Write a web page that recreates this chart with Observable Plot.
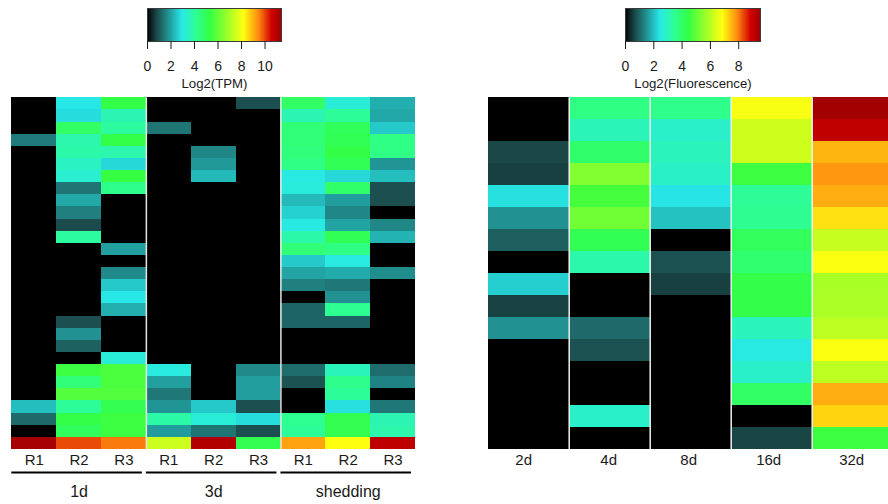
<!DOCTYPE html>
<html>
<head>
<meta charset="utf-8">
<script src="https://cdn.jsdelivr.net/npm/d3@7"></script>
<script src="https://cdn.jsdelivr.net/npm/@observablehq/plot@0.6"></script>
<style>
html,body{margin:0;padding:0;background:#fff;width:888px;height:504px;overflow:hidden}
#root{position:relative;width:888px;height:504px;overflow:hidden}
#root svg{position:absolute;max-width:none;background:transparent}
</style>
</head>
<body>
<div id="root"></div>
<script>
// Colour ramp shared by both panels, as a fraction of each panel's maximum
const rampStops = [0, 0.07, 0.26, 0.37, 0.47, 0.72, 0.83, 0.93, 1];
const rampColors = ["#000000", "#1b4747", "#28e8e8", "#2eff90", "#33ff44", "#ffff10", "#ff8c10", "#d00000", "#a00000"];

const tpmMax = 11.4;
const fluorMax = 9.54;
const tpmTicks = [0, 2, 4, 6, 8, 10];
const fluorTicks = [0, 2, 4, 6, 8];

// Left heat map: Log2(TPM), 29 rows per column
const replicateLabels = ["R1", "R2", "R3", "R1", "R2", "R3", "R1", "R2", "R3"];
const groupLabels = ["1d", "3d", "shedding"];
const d1R1 = [0,0,0,1.5,0,0,0,0,0,0,0,0,0,0,0,0,0,0,0,0,0,0,0,0,0,2.4,1.25,0,11.3];
const d1R2 = [2.95,2.8,4.9,3.8,3.85,3.5,3.3,1.4,2.1,1.55,0.85,4.0,0,0,0,0,0,0,0.92,1.8,1.15,0,5.5,4.6,5.8,4.1,5.3,5.0,10.0];
const d1R3 = [5.3,3.7,4.0,5.3,3.8,2.75,5.4,4.3,0,0,0,0,2.0,0,1.7,2.55,2.95,2.2,0,0,0,3.2,5.7,5.7,5.8,5.2,5.5,5.5,9.6];
const d3R1 = [0,0,1.4,0,0,0,0,0,0,0,0,0,0,0,0,0,0,0,0,0,0,0,3.1,2.0,1.45,1.85,3.9,1.95,7.5];
const d3R2 = [0,0,0,0,1.65,1.9,2.35,0,0,0,0,0,0,0,0,0,0,0,0,0,0,0,0,0,0,2.55,3.2,1.4,11.1];
const d3R3 = [0.92,0,0,0,0,0,0,0,0,0,0,0,0,0,0,0,0,0,0,0,0,0,1.7,1.95,1.95,0.92,2.8,0.92,5.2];
const shedR1 = [4.9,3.7,4.6,4.6,4.5,4.4,3.05,3.15,2.35,2.65,3.05,3.85,4.6,2.55,2.05,1.55,0,1.2,1.2,0,0,0,1.3,0.95,0,0,4.2,4.1,9.2];
const shedR2 = [3.2,4.1,5.0,5.1,5.3,5.1,2.75,4.8,1.95,1.65,2.05,5.1,4.4,3.1,2.15,1.45,1.8,4.2,1.2,0,0,0,3.6,4.3,4.1,2.85,5.2,5.2,8.2];
const shedR3 = [2.2,2.1,2.55,4.4,4.4,1.85,2.4,0.92,0.92,0,1.65,2.25,0,0,1.75,0,0,0,0,0,0,0,1.3,1.6,0,1.45,3.7,3.8,10.9];
const tpmColumns = [d1R1, d1R2, d1R3, d3R1, d3R2, d3R3, shedR1, shedR2, shedR3];

// Right heat map: Log2(Fluorescence), 16 rows per column
const dayLabels = ["2d", "4d", "8d", "16d", "32d"];
const day2 = [0,0,0.67,0.6,2.4,1.5,0.94,0,2.2,0.63,1.5,0,0,0,0,0];
const day4 = [3.7,3.05,4.0,5.4,4.7,5.2,4.3,3.2,0,0,1.05,0.78,0,0,2.85,0];
const day8 = [3.6,2.85,3.0,2.9,2.45,2.05,0,0.78,0.6,0,0,0,0,0,0,0];
const day16 = [6.8,6.3,6.3,4.6,3.45,3.5,4.2,3.95,4.4,4.4,3.0,2.55,2.85,4.1,0,0.65];
const day32 = [9.5,9.1,7.54,7.82,7.62,7.15,6.2,6.85,5.85,5.9,6.1,6.85,6.1,7.62,7.25,4.6];
const fluorColumns = [day2, day4, day8, day16, day32];
const dayLabelNudge = [-5, -1, -2, -3, -1];

const font = "'Liberation Sans', Arial, sans-serif";
const root = document.getElementById("root");

function place(svg, left, top) {
  svg.style.left = left + "px";
  svg.style.top = top + "px";
  root.appendChild(svg);
}

function colorScale(max) {
  return {type: "linear", domain: rampStops.map(s => s * max), range: rampColors, interpolate: "rgb", clamp: true};
}

function cellsOf(columns) {
  return columns.flatMap((col, c) => col.map((v, r) => ({c, r, v})));
}

function colorBar(max, ticks, title, left, top, barWidth, barHeight) {
  const levels = d3.range(0, Math.ceil(barWidth));
  const step = max / levels.length;
  const svg = Plot.plot({
    width: barWidth + 60,
    height: 96 - top,
    marginLeft: 30,
    marginRight: 30,
    marginTop: 0,
    marginBottom: 96 - top - barHeight,
    style: {fontFamily: font, background: "transparent"},
    x: {domain: [0, max], axis: null},
    y: {domain: [0, 1], axis: null},
    color: colorScale(max),
    marks: [
      Plot.rectY(levels, {
        x1: d => d * step,
        x2: d => (d + 1) * step + step * 0.3,
        y1: 0, y2: 1,
        fill: d => (d + 0.5) * step,
        shapeRendering: "crispEdges"
      }),
      Plot.frame({stroke: "#3a3a3a", strokeWidth: 1}),
      Plot.axisX({ticks, tickSize: 8, tickPadding: 12, fontSize: 14, color: "#1a1a1a", stroke: "#1a1a1a", tickFormat: d => String(d), label: null}),
      Plot.text([title], {x: max / 2, frameAnchor: "bottom", dy: 46, fontSize: 13.2, fill: "#1a1a1a", textAnchor: "middle"})
    ]
  });
  place(svg, left - 30, top);
}

colorBar(tpmMax, tpmTicks, "Log2(TPM)", 147, 7.5, 134, 33);
colorBar(fluorMax, fluorTicks, "Log2(Fluorescence)", 625, 8, 135, 33);

// Left heat map
const groupSpans = groupLabels.map((label, i) => ({label, start: i * 3, end: i * 3 + 3}));
place(Plot.plot({
  width: 430,
  height: 414,
  marginLeft: 11.3,
  marginRight: 15,
  marginTop: 7.3,
  marginBottom: 55,
  style: {fontFamily: font, background: "transparent"},
  x: {domain: [0, 9], axis: null},
  y: {domain: [0, 29], reverse: true, axis: null},
  color: colorScale(tpmMax),
  marks: [
    Plot.rect(cellsOf(tpmColumns), {
      x1: "c", x2: d => d.c + 1,
      y1: "r", y2: d => d.r + 1,
      fill: "v", shapeRendering: "crispEdges"
    }),
    Plot.ruleX([3, 6], {y1: 0, y2: 29, stroke: "#e4e4e4", strokeWidth: 1.5}),
    Plot.text(replicateLabels, {
      x: (d, i) => i + 0.5, y: 29, dy: 11, fontSize: 15, fill: "#1a1a1a"
    }),
    Plot.ruleY(groupSpans, {
      y: 29, x1: "start", x2: "end", dy: 23, insetRight: 4, stroke: "#000", strokeWidth: 2
    }),
    Plot.text(groupSpans, {
      x: d => (d.start + d.end) / 2, y: 29, dy: 42, text: "label", fontSize: 16, fill: "#1a1a1a"
    })
  ]
}), 0, 90);

// Right heat map (its last column runs past the edge of the picture)
place(Plot.plot({
  width: 408,
  height: 414,
  marginTop: 7.3,
  marginBottom: 55,
  style: {fontFamily: font, background: "transparent"},
  x: {domain: [0, 5], range: [7.7, 412.7], axis: null},
  y: {domain: [0, 16], reverse: true, axis: null},
  color: colorScale(fluorMax),
  marks: [
    Plot.rect(cellsOf(fluorColumns), {
      x1: "c", x2: d => d.c + 1,
      y1: "r", y2: d => d.r + 1,
      fill: "v", shapeRendering: "crispEdges"
    }),
    Plot.ruleX([1, 2, 3, 4], {y1: 0, y2: 16, stroke: "#f0f0f0", strokeWidth: 1.5}),
    ...dayLabels.map((label, i) => Plot.text([label], {
      x: i + 0.5, y: 16, dy: 11, dx: dayLabelNudge[i], fontSize: 15, fill: "#1a1a1a"
    }))
  ]
}), 480, 90);
</script>
</body>
</html>
